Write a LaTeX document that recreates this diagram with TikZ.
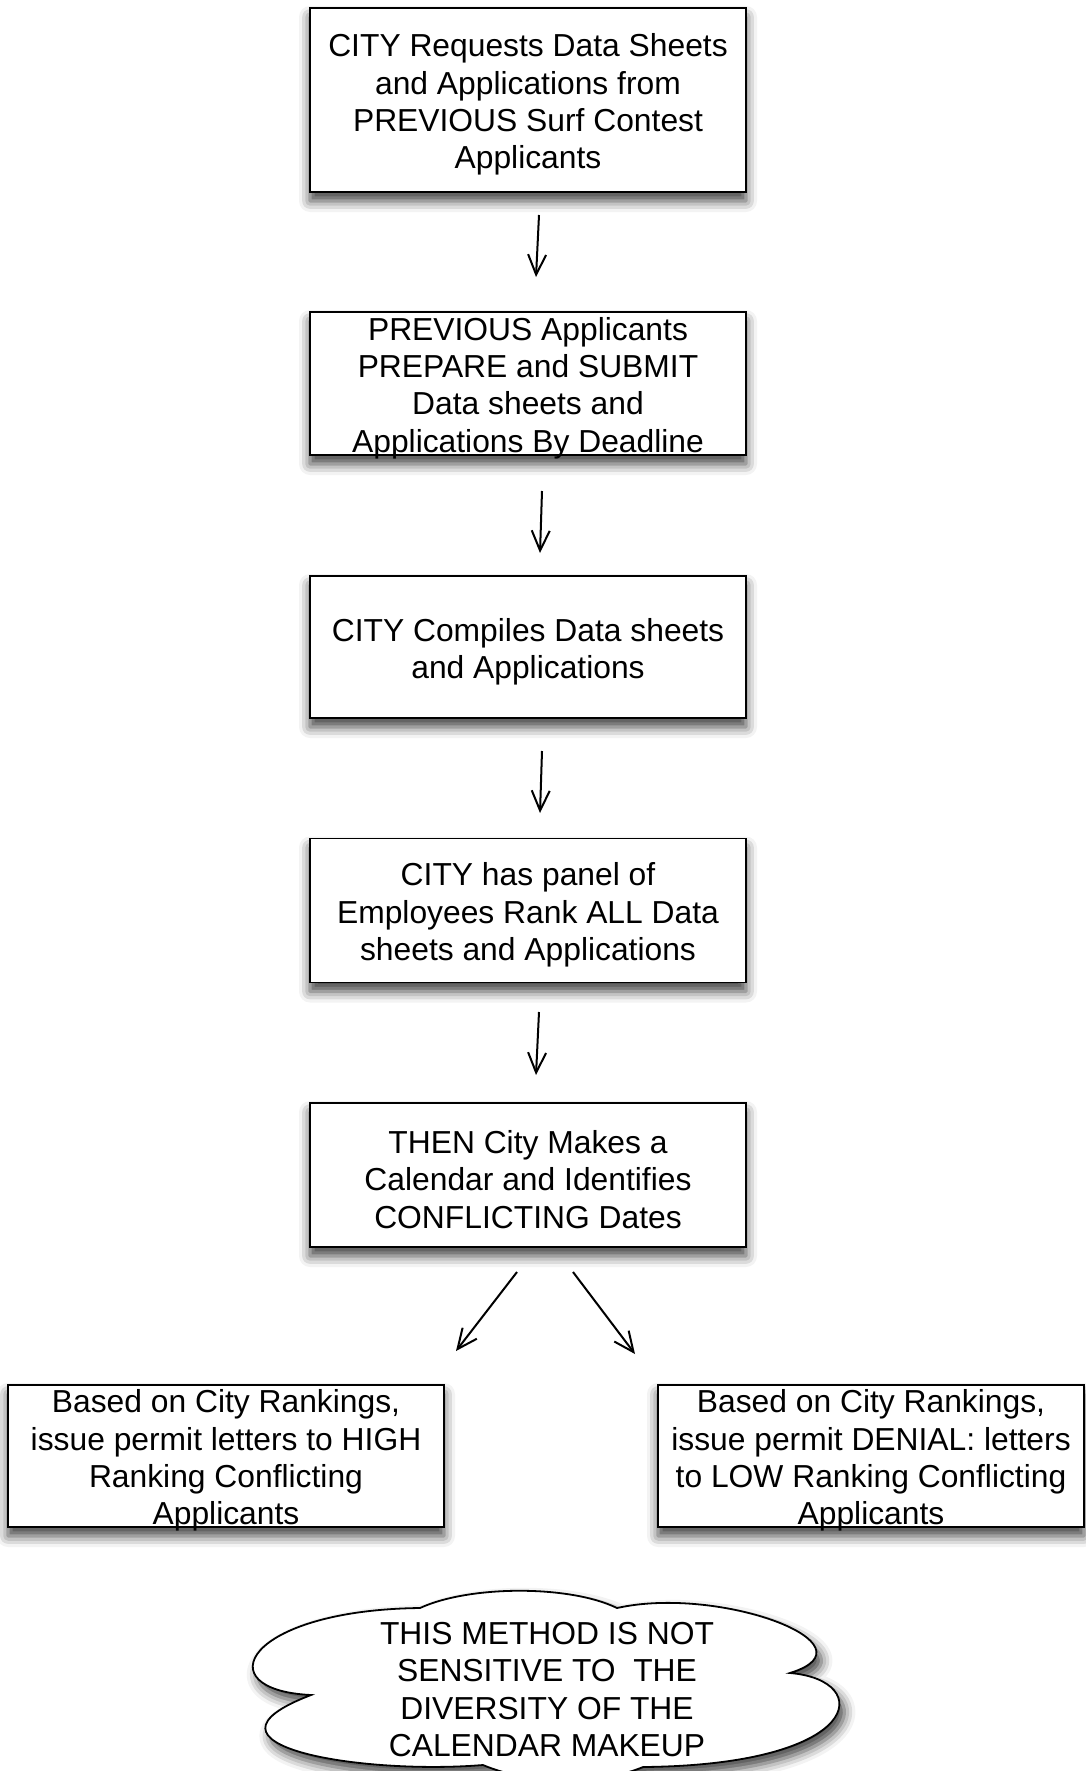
\documentclass[tikz,border=0pt]{standalone}
\usepackage{fontspec}
\setmainfont{Liberation Sans}
\usetikzlibrary{arrows.meta,shadows.blur}

\begin{document}
\begin{tikzpicture}[x=1pt,y=1pt]
\tikzstyle{box}=[draw, line width=1.8pt, fill=white, minimum width=436pt, inner sep=0pt,
  blur shadow={shadow xshift=0pt, shadow yshift=-9pt, shadow blur radius=11pt, shadow opacity=75}]
\tikzstyle{txt}=[align=center, inner sep=0pt, yshift=-4.5pt, font=\fontsize{31.8}{37.3}\selectfont]
\tikzstyle{arr}=[line width=2pt, -{Straight Barb[length=20pt,width=18pt]}]
\useasboundingbox (0,0) rectangle (1086,-1771);
% boxes
\node[box, minimum height=184pt] (b1) at (528,-100) {};
\node[box, minimum height=143pt] (b2) at (528,-383.5) {};
\node[box, minimum height=142pt] (b3) at (528,-647) {};
\node[box, minimum height=144pt] (b4) at (528,-910.5) {};
\node[box, minimum height=144pt] (b5) at (528,-1175) {};
\node[box, minimum height=142pt] (b6) at (226,-1456) {};
\node[box, minimum height=142pt, minimum width=426pt] (b7) at (871,-1456) {};
\node[txt] (t1) at (b1) {CITY Requests Data Sheets\\and Applications from\\PREVIOUS Surf Contest\\Applicants};
\node[txt] (t2) at (b2) {PREVIOUS Applicants\\PREPARE and SUBMIT\\Data sheets and\\Applications By Deadline};
\node[txt] (t3) at (b3) {CITY Compiles Data sheets\\and Applications};
\node[txt] (t4) at (b4) {CITY has panel of\\Employees Rank ALL Data\\sheets and Applications};
\node[txt] (t5) at (b5) {THEN City Makes a\\Calendar and Identifies\\CONFLICTING Dates};
\node[txt] (t6) at (b6) {Based on City Rankings,\\issue permit letters to HIGH\\Ranking Conflicting\\Applicants};
\node[txt] (t7) at (b7) {Based on City Rankings,\\issue permit DENIAL: letters\\to LOW Ranking Conflicting\\Applicants};
% arrows
\coordinate (a1s) at (539,-215);
\coordinate (a1e) at (536,-277);
\coordinate (a2s) at (542,-491);
\coordinate (a2e) at (540,-553);
\coordinate (a3s) at (542,-751);
\coordinate (a3e) at (540,-813);
\coordinate (a4s) at (539,-1012);
\coordinate (a4e) at (536,-1075);
\coordinate (a5s) at (517,-1272);
\coordinate (a5e) at (456,-1351);
\coordinate (a6s) at (573,-1272);
\coordinate (a6e) at (635,-1354);
\draw[arr] (a1s) -- (a1e);
\draw[arr] (a2s) -- (a2e);
\draw[arr] (a3s) -- (a3e);
\draw[arr] (a4s) -- (a4e);
\draw[arr] (a5s) -- (a5e);
\draw[arr] (a6s) -- (a6e);
% cloud
\coordinate (c1) at (420,-1608);
\coordinate (c2) at (617,-1608);
\coordinate (c3) at (790,-1673);
\coordinate (c4) at (643,-1767);
\coordinate (c5) at (483,-1765);
\coordinate (c6) at (311,-1695);
\draw[line width=1.8pt, fill=white,
  blur shadow={shadow xshift=5pt, shadow yshift=-8pt, shadow blur radius=11pt, shadow opacity=75}]
  (c1) .. controls (470,-1585) and (570,-1585) .. (c2)
       .. controls (720,-1585) and (880,-1645) .. (c3)
       .. controls (875,-1680) and (865,-1765) .. (c4)
       .. controls (600,-1785) and (530,-1785) .. (c5)
       .. controls (360,-1775) and (180,-1745) .. (c6)
       .. controls (205,-1690) and (245,-1610) .. (c1) -- cycle;
\node[txt] (t8) at (547,-1685) {THIS METHOD IS NOT\\SENSITIVE TO\ \ THE\\DIVERSITY OF THE\\CALENDAR MAKEUP};
\end{tikzpicture}
\end{document}
